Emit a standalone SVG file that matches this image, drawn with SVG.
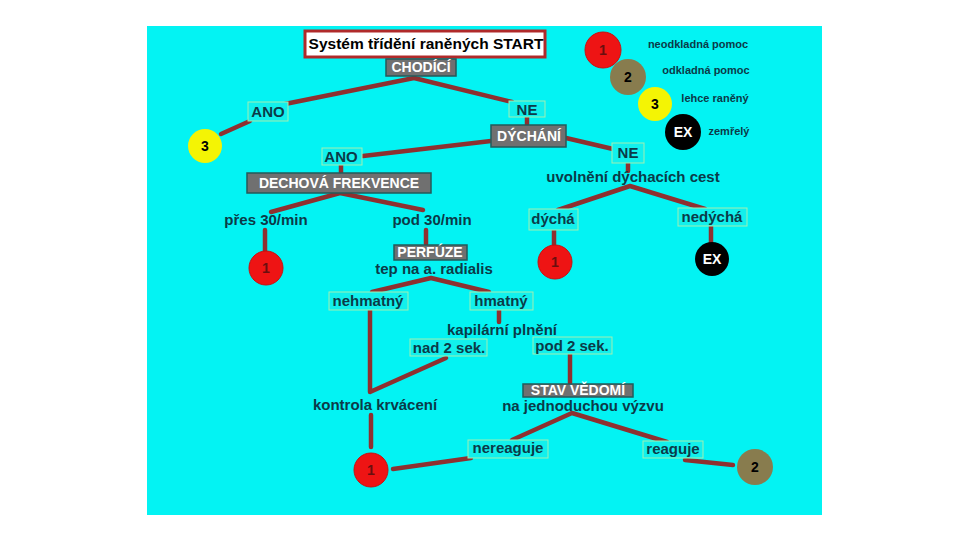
<svg xmlns="http://www.w3.org/2000/svg" width="960" height="540" viewBox="0 0 960 540">
<style>
.bg{fill:#03f3f3}
.ln{stroke:#8e3030;stroke-width:4.5;fill:none;stroke-linecap:round;stroke-linejoin:round}
.lb{fill:#12f0ec;stroke:#9ff0b4;stroke-width:1}
.t{font-family:"Liberation Sans",Arial,sans-serif;font-weight:bold;font-size:15px;fill:#0b3a48;text-anchor:middle}
.gb{fill:#707070;stroke:#255a5a;stroke-width:1.5}
.gt{font-family:"Liberation Sans",Arial,sans-serif;font-weight:bold;font-size:14px;fill:#ffffff;text-anchor:middle}
.lg{font-family:"Liberation Sans",Arial,sans-serif;font-weight:bold;font-size:11px;fill:#0b3a48;text-anchor:middle}
.red{fill:#ee1414;stroke:#c81010;stroke-width:1}
.olv{fill:#887c4e}
.yel{fill:#f4f404}
.blk{fill:#000000}
.ct{font-family:"Liberation Sans",Arial,sans-serif;font-weight:bold;font-size:14px;text-anchor:middle}
</style>
<rect width="960" height="540" fill="#ffffff"/>
<rect class="bg" x="147" y="26" width="675" height="489"/>

<g id="connectors">
<polyline class="ln" points="285,104 414,78 512,102"/>
<line class="ln" x1="250" y1="121" x2="221" y2="134"/>
<line class="ln" x1="527" y1="117" x2="527" y2="125"/>
<line class="ln" x1="491" y1="141" x2="363" y2="156"/>
<line class="ln" x1="566" y1="138" x2="613" y2="149"/>
<line class="ln" x1="628" y1="163" x2="628" y2="171"/>
<polyline class="ln" points="558,210 630,186 705,209"/>
<line class="ln" x1="554" y1="230" x2="554" y2="245"/>
<line class="ln" x1="711" y1="226" x2="711" y2="243"/>
<line class="ln" x1="341" y1="164" x2="341" y2="173"/>
<polyline class="ln" points="271,212 340,193 423,210"/>
<line class="ln" x1="265" y1="230" x2="265" y2="254"/>
<line class="ln" x1="426" y1="230" x2="426" y2="244"/>
<polyline class="ln" points="372,292 431,278 489,292"/>
<polyline class="ln" points="370,310 370,392 446,358"/>
<line class="ln" x1="499" y1="310" x2="499" y2="322"/>
<line class="ln" x1="570" y1="354" x2="570" y2="383"/>
<line class="ln" x1="371" y1="415" x2="371" y2="447"/>
<line class="ln" x1="393" y1="469" x2="471" y2="458"/>
<polyline class="ln" points="512,440 572,413 667,442"/>
<line class="ln" x1="685" y1="460" x2="733" y2="465"/>
</g>

<g id="title">
<rect x="305" y="31" width="240" height="26" fill="#ffffff" stroke="#b02a2a" stroke-width="3"/>
<text x="426" y="49" font-family="'Liberation Sans',Arial,sans-serif" font-weight="bold" font-size="15.5" fill="#000" text-anchor="middle">Systém třídění raněných START</text>
</g>

<g id="chodici"><rect class="gb" x="386" y="59" width="70" height="17"/><text class="gt" x="421" y="72">CHODÍCÍ</text></g>
<g id="ano1"><rect class="lb" x="248" y="102" width="40" height="19"/><text class="t" x="268" y="117">ANO</text></g>
<g id="c3a"><circle class="yel" cx="205" cy="146" r="17"/><text class="ct" x="205" y="151" fill="#000">3</text></g>
<g id="ne1"><rect class="lb" x="509" y="101" width="36" height="16"/><text class="t" x="527" y="115">NE</text></g>
<g id="dychani"><rect class="gb" x="491" y="125" width="75" height="22"/><text class="gt" x="529" y="141" font-size="15">DÝCHÁNÍ</text></g>
<g id="ano2"><rect class="lb" x="322" y="148" width="40" height="17"/><text class="t" x="341" y="162">ANO</text></g>
<g id="ne2"><rect class="lb" x="612" y="143" width="32" height="20"/><text class="t" x="628" y="158">NE</text></g>
<g id="uvolneni"><text class="t" x="633" y="182">uvolnění dýchacích cest</text></g>
<g id="dycha"><rect class="lb" x="529" y="209" width="49" height="21"/><text class="t" x="553" y="224">dýchá</text></g>
<g id="nedycha"><rect class="lb" x="678" y="208" width="69" height="18"/><text class="t" x="712" y="222">nedýchá</text></g>
<g id="c1b"><circle class="red" cx="555" cy="262" r="17"/><text class="ct" x="555" y="267" fill="#6a0f0f">1</text></g>
<g id="exb"><circle class="blk" cx="712" cy="259" r="17"/><text class="ct" x="712" y="264" fill="#fff">EX</text></g>

<g id="dechova"><rect class="gb" x="247" y="173" width="184" height="20"/><text class="gt" x="339" y="188">DECHOVÁ FREKVENCE</text></g>
<g id="pres30"><text class="t" x="266" y="225">přes 30/min</text></g>
<g id="pod30"><text class="t" x="432" y="225">pod 30/min</text></g>
<g id="c1a"><circle class="red" cx="266" cy="268" r="17"/><text class="ct" x="266" y="273" fill="#6a0f0f">1</text></g>
<g id="perfuze"><rect class="gb" x="394" y="245" width="73" height="15"/><text class="gt" x="430" y="257" font-size="13">PERFÚZE</text></g>
<g id="tep"><text class="t" x="434" y="274">tep na a. radialis</text></g>
<g id="nehmatny"><rect class="lb" x="329" y="292" width="79" height="18"/><text class="t" x="368" y="306">nehmatný</text></g>
<g id="hmatny"><rect class="lb" x="470" y="292" width="63" height="18"/><text class="t" x="501" y="306">hmatný</text></g>
<g id="kapilarni"><text class="t" x="502" y="335">kapilární plnění</text></g>
<g id="nad2"><rect class="lb" x="410" y="339" width="77" height="17"/><text class="t" x="449" y="353">nad 2 sek.</text></g>
<g id="pod2"><rect class="lb" x="533" y="337" width="79" height="17"/><text class="t" x="572" y="351">pod 2 sek.</text></g>
<g id="stav"><rect class="gb" x="523" y="384" width="110" height="13"/><text class="gt" x="578" y="395" font-size="13">STAV VĚDOMÍ</text></g>
<g id="vyzva"><text class="t" x="583" y="411">na jednoduchou výzvu</text></g>
<g id="kontrola"><text class="t" x="375" y="410">kontrola krvácení</text></g>
<g id="c1c"><circle class="red" cx="371" cy="470" r="17"/><text class="ct" x="371" y="475" fill="#6a0f0f">1</text></g>
<g id="nereaguje"><rect class="lb" x="468" y="440" width="80" height="18"/><text class="t" x="508" y="453">nereaguje</text></g>
<g id="reaguje"><rect class="lb" x="643" y="441" width="60" height="17"/><text class="t" x="673" y="454">reaguje</text></g>
<g id="c2"><circle class="olv" cx="755" cy="467" r="18"/><text class="ct" x="755" y="472" fill="#000">2</text></g>

<g id="legend">
<circle class="red" cx="603" cy="50" r="18"/><text class="ct" x="603" y="55" fill="#6a0f0f">1</text>
<text class="lg" x="698" y="48">neodkladná pomoc</text>
<circle class="olv" cx="628" cy="77" r="18"/><text class="ct" x="628" y="82" fill="#000">2</text>
<text class="lg" x="706" y="74">odkladná pomoc</text>
<circle class="yel" cx="655" cy="104" r="17"/><text class="ct" x="655" y="109" fill="#000">3</text>
<text class="lg" x="715" y="102">lehce raněný</text>
<circle class="blk" cx="683" cy="132" r="18"/><text class="ct" x="683" y="137" fill="#fff">EX</text>
<text class="lg" x="729" y="135">zemřelý</text>
</g>
</svg>
